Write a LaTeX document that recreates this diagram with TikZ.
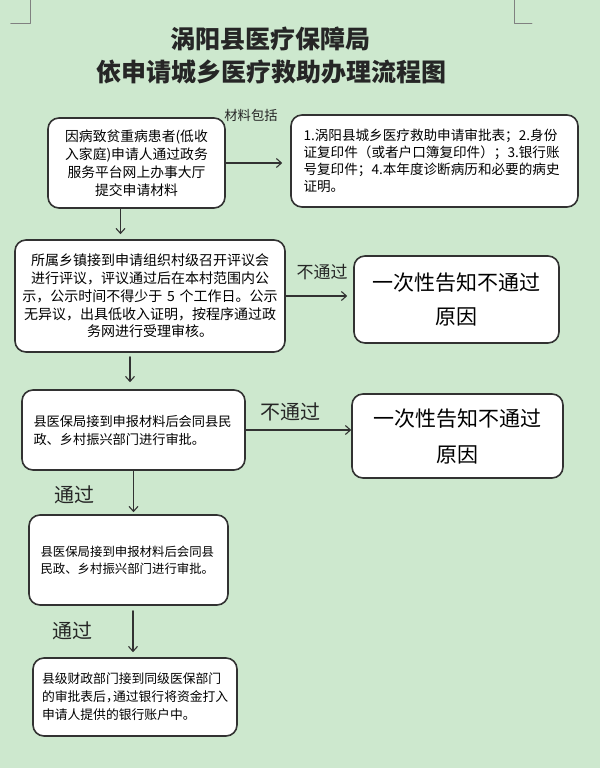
\documentclass[tikz,border=0pt]{standalone}
\usepackage{fontspec}
\setmainfont{Noto Sans CJK SC}
\usetikzlibrary{arrows.meta}
\definecolor{bggreen}{RGB}{205,232,206}
\definecolor{edge}{RGB}{50,50,50}

\begin{document}
\begin{tikzpicture}[x=1pt,y=-1pt,line cap=round,line join=round,
  box/.style={draw=edge,fill=white,line width=1.6pt,rounded corners=11pt,inner sep=0pt,align=center},
  arr/.style={draw=edge,line width=1.1pt,-{Straight Barb[length=5pt,width=9pt]}},
  lbl/.style={inner sep=0pt,text=black!85}]
\fill[bggreen] (0,0) rectangle (600,768);
\useasboundingbox (0,0) rectangle (600,768);
\draw[gray,line width=0.8pt]
(10.7,23) -- (30.6,23) -- (30.6,0)
(514,0) -- (514,23) -- (532,23);
\node[lbl,font=\fontsize{25}{30}\selectfont\bfseries] (t1) at (270,39) {涡阳县医疗保障局};
\node[lbl,font=\fontsize{25}{30}\selectfont\bfseries] (t2) at (271,72) {依申请城乡医疗救助办理流程图};
\node[box,minimum width=177,minimum height=90,text width=165,font=\fontsize{13.8}{18}\selectfont]
  (b1) at (136.5,163) {因病致贫重病患者(低收\\入家庭)申请人通过政务\\服务平台网上办事大厅\\提交申请材料};
\node[box,minimum width=287,minimum height=92,text width=262,align=left,font=\fontsize{13.6}{17}\selectfont]
  (b2) at (434.5,161) {1.涡阳县城乡医疗救助申请审批表；2.身份\\证复印件（或者户口簿复印件）；3.银行账\\号复印件；4.本年度诊断病历和必要的病史\\证明。};
\node[box,minimum width=270,minimum height=112,text width=258,font=\fontsize{14}{17.8}\selectfont]
  (b3) at (150,296) {所属乡镇接到申请组织村级召开评议会\\进行评议，评议通过后在本村范围内公\\示，公示时间不得少于 5 个工作日。公示\\无异议，出具低收入证明，按程序通过政\\务网进行受理审核。};
\node[box,minimum width=205,minimum height=87,text width=195,font=\fontsize{21}{34}\selectfont]
  (b4) at (456.5,299.5) {一次性告知不通过\\原因};
\node[box,minimum width=223,minimum height=80,text width=200,align=left,font=\fontsize{13.2}{18}\selectfont]
  (b5) at (133.5,430) {县医保局接到申报材料后会同县民\\政、乡村振兴部门进行审批。};
\node[box,minimum width=211,minimum height=84,text width=195,font=\fontsize{21}{36}\selectfont]
  (b6) at (457.5,436) {一次性告知不通过\\原因};
\node[box,minimum width=199,minimum height=90,text width=176,align=left,font=\fontsize{12.4}{17}\selectfont]
  (b7) at (128.5,560) {县医保局接到申报材料后会同县\\民政、乡村振兴部门进行审批。};
\node[box,minimum width=204,minimum height=78,text width=186,align=left,font=\fontsize{12.8}{18}\selectfont]
  (b8) at (135,697) {县级财政部门接到同级医保部门\\的审批表后，\kern-.45em通过银行将资金打入\\申请人提供的银行账户中。};
\node[lbl,font=\fontsize{13.3}{16}\selectfont] (l1) at (251,115) {材料包括};
\node[lbl,font=\fontsize{17}{20}\selectfont] (l2) at (322,272) {不通过};
\node[lbl,font=\fontsize{20}{24}\selectfont] (l3) at (290,412) {不通过};
\node[lbl,font=\fontsize{20}{24}\selectfont] (l4) at (74,495) {通过};
\node[lbl,font=\fontsize{20}{24}\selectfont] (l5) at (72,631) {通过};
\coordinate (c1) at ([xshift=-16pt]b1.south);
\coordinate (c2) at ([xshift=-20pt]b3.south);
\coordinate (c3) at ([xshift=4.5pt]b7.south);
\draw[arr,shorten >=8pt] (b1.east) -- (b1.east -| b2.west);
\draw[arr,shorten >=5pt] (c1) -- (c1 |- b3.north);
\draw[arr,shorten >=6pt] (b3.east) -- (b3.east -| b4.west);
\draw[arr,shorten <=4pt,shorten >=7pt] (c2) -- (c2 |- b5.north);
\draw[arr] (b5.east) -- (b5.east -| b6.west);
\draw[arr,shorten >=2pt] (b5.south) -- (b5.south |- b7.north);
\draw[arr,shorten <=5pt,shorten >=5pt] (c3) -- (c3 |- b8.north);
\end{tikzpicture}
\end{document}
